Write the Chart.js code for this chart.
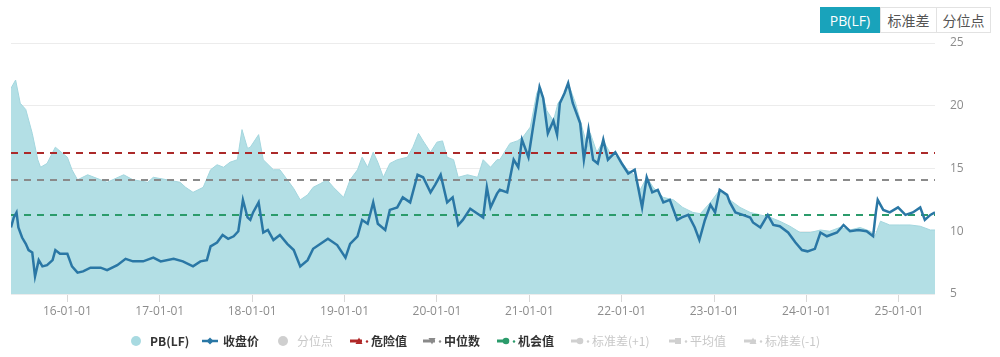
<!DOCTYPE html>
<html>
<head>
<meta charset="utf-8">
<script src="https://cdn.jsdelivr.net/npm/chart.js@4/dist/chart.umd.min.js"></script>
<style>
  html, body { margin:0; padding:0; background:#fff; }
  #wrap { position:relative; width:1000px; height:357px; overflow:hidden; font-family:"Open Sans","Noto Sans CJK SC",sans-serif; }
  canvas { position:absolute; left:0; top:0; }
  .btn { position:absolute; top:7px; height:26px; line-height:26px; text-align:center; font-size:14px; color:#555; background:#fff; border:1px solid #e2e2e2; box-sizing:border-box; font-family:"Open Sans","Noto Sans CJK SC",sans-serif; }
  .btn.active { background:#19a3bb; color:#fff; border-color:#19a3bb; }
  .leg { position:absolute; top:333px; height:16px; line-height:16px; font-size:12px; white-space:nowrap; font-family:"Noto Sans CJK SC","Open Sans",sans-serif; }
  .leg svg { position:absolute; top:3px; }
  .leg span { position:absolute; top:0; }
  .on { color:#333; font-weight:bold; }
  .off { color:#c8c8c8; }
</style>
</head>
<body>
<div id="wrap">
  <canvas id="c" width="1000" height="357"></canvas>
  <div class="btn active" style="left:820px;width:60px;">PB(LF)</div>
  <div class="btn" style="left:880px;width:57px;">标准差</div>
  <div class="btn" style="left:936px;width:55px;">分位点</div>
  <div id="legend"></div>
</div>
<script>
// ---- data ----
const pbDates = [2015.39,2015.44,2015.49,2015.55,2015.62,2015.68,2015.71,2015.78,2015.87,2015.95,
  2016.00,2016.05,2016.11,2016.22,2016.36,2016.43,2016.61,2016.71,2016.87,2016.93,
  2017.08,2017.22,2017.28,2017.36,2017.47,2017.55,2017.62,2017.69,2017.76,2017.84,2017.89,2017.95,2017.98,
  2018.07,2018.12,2018.23,2018.30,2018.38,2018.45,2018.52,2018.60,2018.66,2018.74,2018.81,2018.88,2018.99,
  2019.06,2019.14,2019.19,2019.25,2019.31,2019.36,2019.42,2019.49,2019.57,2019.68,2019.74,2019.80,2019.85,2019.93,
  2020.00,2020.06,2020.11,2020.18,2020.23,2020.33,2020.44,2020.50,2020.58,2020.65,2020.68,2020.79,2020.87,2020.93,
  2021.01,2021.08,2021.12,2021.19,2021.26,2021.31,2021.39,2021.42,2021.50,2021.57,2021.63,2021.66,2021.73,2021.80,2021.87,2021.98,
  2022.06,2022.12,2022.20,2022.27,2022.34,2022.45,2022.56,2022.66,2022.77,2022.85,2022.96,
  2023.06,2023.17,2023.28,2023.39,2023.50,2023.61,2023.71,2023.82,2023.93,
  2024.04,2024.15,2024.25,2024.36,2024.47,2024.58,2024.69,2024.74,2024.80,2024.90,
  2025.01,2025.12,2025.23,2025.34,2025.39];
const pbValues = [21.4,22.05,20.2,19.7,17.8,15.7,15.1,15.4,16.7,16.2,
  15.9,14.9,14.1,14.5,14.1,13.9,14.5,14.1,13.9,14.3,
  14.1,13.9,13.5,13.1,13.5,14.9,15.3,15.1,15.5,15.7,18.1,16.6,16.7,
  17.7,15.7,14.9,14.9,14.1,13.4,12.5,12.9,13.5,13.8,14.1,13.5,12.7,
  14.1,14.9,15.9,15.1,16.3,15.5,14.3,15.4,15.7,15.9,16.7,17.8,17.2,16.3,
  17.1,17.2,15.9,15.7,14.3,14.5,14.3,15.7,15.1,15.7,15.7,17.0,17.2,17.5,
  18.3,21.0,21.5,19.6,18.8,20.2,21.0,21.8,20.2,18.3,16.7,17.8,16.3,17.2,16.3,15.7,
  14.9,14.6,13.3,14.3,13.5,12.7,12.5,11.9,11.5,11.4,12.3,
  13.3,12.5,11.9,11.5,11.3,11.1,10.8,10.4,9.9,
  9.9,10.1,10.0,10.3,10.1,10.3,10.0,9.6,10.8,10.5,
  10.5,10.5,10.4,10.1,10.1];
const closeDates = [2015.39,2015.42,2015.45,2015.47,2015.51,2015.55,2015.58,2015.62,2015.65,2015.69,2015.73,2015.78,2015.84,2015.87,2015.92,
  2016.00,2016.05,2016.11,2016.17,2016.25,2016.36,2016.43,2016.54,2016.63,2016.71,2016.82,2016.93,
  2017.01,2017.15,2017.25,2017.36,2017.44,2017.51,2017.55,2017.62,2017.68,2017.74,2017.80,2017.85,2017.90,2017.95,2017.98,
  2018.01,2018.07,2018.12,2018.17,2018.23,2018.30,2018.38,2018.45,2018.52,2018.60,2018.66,2018.74,2018.82,2018.92,
  2019.01,2019.06,2019.14,2019.19,2019.25,2019.31,2019.36,2019.44,2019.49,2019.57,2019.63,2019.71,2019.79,2019.85,2019.93,2019.98,
  2020.04,2020.11,2020.17,2020.23,2020.28,2020.36,2020.44,2020.50,2020.54,2020.58,2020.65,2020.68,2020.76,2020.83,2020.88,2020.92,2020.99,
  2021.04,2021.11,2021.15,2021.20,2021.26,2021.30,2021.33,2021.38,2021.42,2021.47,2021.55,2021.59,2021.64,2021.69,2021.74,2021.80,2021.85,2021.93,
  2022.00,2022.07,2022.14,2022.22,2022.27,2022.33,2022.39,2022.45,2022.52,2022.60,2022.65,2022.72,2022.79,2022.84,2022.90,2022.96,
  2023.01,2023.06,2023.14,2023.17,2023.23,2023.31,2023.39,2023.42,2023.50,2023.58,2023.64,2023.71,2023.80,2023.88,2023.95,
  2024.01,2024.09,2024.15,2024.22,2024.33,2024.40,2024.47,2024.56,2024.65,2024.72,2024.75,2024.77,2024.83,2024.90,2024.99,
  2025.07,2025.15,2025.23,2025.28,2025.34,2025.39];
const closeValues = [10.3,11.1,11.5,10.3,9.5,9.0,8.5,8.3,6.4,7.7,7.2,7.3,7.7,8.5,8.2,
  8.2,7.2,6.7,6.8,7.1,7.1,6.9,7.3,7.8,7.6,7.6,7.9,
  7.6,7.8,7.6,7.2,7.6,7.7,8.8,9.1,9.7,9.4,9.6,10.0,12.5,11.1,10.9,
  11.5,12.3,9.9,10.1,9.3,9.7,9.0,8.5,7.2,7.7,8.6,9.0,9.4,8.9,
  7.9,9.0,9.6,10.9,10.6,12.3,10.6,10.1,11.7,11.9,12.7,12.3,14.5,14.3,13.1,13.7,
  14.5,12.3,12.7,10.5,10.9,11.8,11.4,11.1,13.5,11.9,13.0,13.3,13.1,15.7,15.1,17.3,15.9,
  18.3,21.5,20.6,17.8,18.8,17.7,20.2,21.0,21.8,20.2,18.6,15.7,18.1,15.7,15.4,17.3,15.7,16.3,
  15.4,14.6,14.9,11.9,14.3,13.1,13.3,12.3,12.5,10.9,11.1,11.3,10.3,9.3,10.9,12.1,
  11.5,13.3,12.9,12.3,11.5,11.3,11.1,10.7,10.3,11.3,10.5,10.4,9.9,9.1,8.5,
  8.4,8.6,9.9,9.6,9.9,10.5,10.0,10.1,10.0,9.6,11.5,12.5,11.7,11.5,11.9,
  11.3,11.5,11.9,10.9,11.3,11.5];
const dangerValue = 16.24;      // 危险值
const medianValue = 14.08;      // 中位数
const chanceValue = 11.3;       // 机会值
const yearTicks = [2016,2017,2018,2019,2020,2021,2022,2023,2024,2025];
const yearTickLabels = ['16-01-01','17-01-01','18-01-01','19-01-01','20-01-01','21-01-01','22-01-01','23-01-01','24-01-01','25-01-01'];
const yTicks = [5,10,15,20,25];

const xMin = pbDates[0], xMax = pbDates[pbDates.length-1];
const pts = (xs, ys) => xs.map((x,i)=>({x:x, y:ys[i]}));
const hline = v => [{x:xMin,y:v},{x:xMax,y:v}];

new Chart(document.getElementById('c'), {
  type:'line',
  data:{ datasets:[
    { label:'PB(LF)', data:pts(pbDates,pbValues), borderColor:'#a3d6de', borderWidth:1, backgroundColor:'#b3dfe5', fill:'start', pointRadius:0, tension:0, order:3 },
    { label:'收盘价', data:pts(closeDates,closeValues), borderColor:'#2a77a5', borderWidth:2.5, fill:false, pointRadius:0, tension:0, order:0 },
    { label:'危险值', data:hline(dangerValue), borderColor:'#ab2a2a', borderWidth:2, borderDash:[7,6], fill:false, pointRadius:0, order:1 },
    { label:'中位数', data:hline(medianValue), borderColor:'#8a8a8a', borderWidth:2, borderDash:[7,6], fill:false, pointRadius:0, order:1 },
    { label:'机会值', data:hline(chanceValue), borderColor:'#2b9b6b', borderWidth:2, borderDash:[7,6], fill:false, pointRadius:0, order:1 }
  ]},
  options:{
    responsive:false, animation:false, devicePixelRatio:1,
    layout:{ padding:{ left:11, top:43, right:0, bottom:0 } },
    plugins:{ legend:{display:false}, tooltip:{enabled:false} },
    scales:{
      x:{ type:'linear', min:xMin, max:xMax,
        afterBuildTicks: s => { s.ticks = yearTicks.map(v=>({value:v})); },
        afterFit: s => { s.height = 63; },
        border:{display:false},
        grid:{ drawOnChartArea:false, drawTicks:true, tickLength:8, color:'#d8d8d8' },
        ticks:{ padding:2, color:'#8c8c8c', font:{family:'Open Sans', size:12}, maxRotation:0, autoSkip:false,
          callback: v => { const i = yearTicks.indexOf(v); return i>=0 ? yearTickLabels[i] : ''; } }
      },
      y:{ position:'right', min:5, max:25,
        afterBuildTicks: s => { s.ticks = yTicks.map(v=>({value:v})); },
        afterFit: s => { s.width = 65; },
        border:{display:false},
        grid:{ color:'#ececec', drawTicks:false, tickLength:0 },
        ticks:{ padding:15, color:'#8c8c8c', font:{family:'Open Sans', size:12} }
      }
    }
  }
});

// ---- legend (HTML text) ----
const legendItems = [
  {label:'PB(LF)', on:true,  x:130, icon:'circle', color:'#a8dae1'},
  {label:'收盘价', on:true,  x:202, icon:'lineDiamond', color:'#2a77a5'},
  {label:'分位点', on:false, x:277, icon:'circle', color:'#cfcfcf'},
  {label:'危险值', on:true,  x:350, icon:'tri', color:'#b02828'},
  {label:'中位数', on:true,  x:423, icon:'triDown', color:'#8a8a8a'},
  {label:'机会值', on:true,  x:497, icon:'lineCircle', color:'#2b9b6b'},
  {label:'标准差(+1)', on:false, x:571, icon:'lineCircle', color:'#d0d0d0'},
  {label:'平均值', on:false, x:669, icon:'square', color:'#d0d0d0'},
  {label:'标准差(-1)', on:false, x:744, icon:'tri', color:'#d0d0d0'}
];
function iconSvg(t, c){
  if (t==='circle') return `<svg width="12" height="12" style="left:0;top:2px"><circle cx="6" cy="6" r="5" fill="${c}"/></svg>`;
  if (t==='lineDiamond') return `<svg width="18" height="10" style="left:0"><line x1="0" y1="5" x2="16" y2="5" stroke="${c}" stroke-width="2.5"/><path d="M8 1.5 L11.5 5 L8 8.5 L4.5 5 Z" fill="${c}"/></svg>`;
  const mk = t==='tri' ? `<path d="M9 1.5 L12.5 8 L5.5 8 Z" fill="${c}"/>` :
             t==='triDown' ? `<path d="M5.5 2 L12.5 2 L9 8.5 Z" fill="${c}"/>` :
             t==='square' ? `<rect x="6" y="2" width="6" height="6" fill="${c}"/>` :
             `<circle cx="9" cy="5" r="3.3" fill="${c}"/>`;
  return `<svg width="20" height="10" style="left:0"><line x1="0" y1="5" x2="12" y2="5" stroke="${c}" stroke-width="3"/>${mk}<circle cx="17" cy="5.5" r="1.2" fill="${c}"/></svg>`;
}
const lg = document.getElementById('legend');
legendItems.forEach(it => {
  const d = document.createElement('div');
  d.className = 'leg ' + (it.on ? 'on' : 'off');
  d.style.left = it.x + 'px';
  const tx = it.icon==='circle' ? 20 : 21;
  d.innerHTML = iconSvg(it.icon, it.color) + `<span style="left:${tx}px">${it.label}</span>`;
  lg.appendChild(d);
});
</script>
</body>
</html>
